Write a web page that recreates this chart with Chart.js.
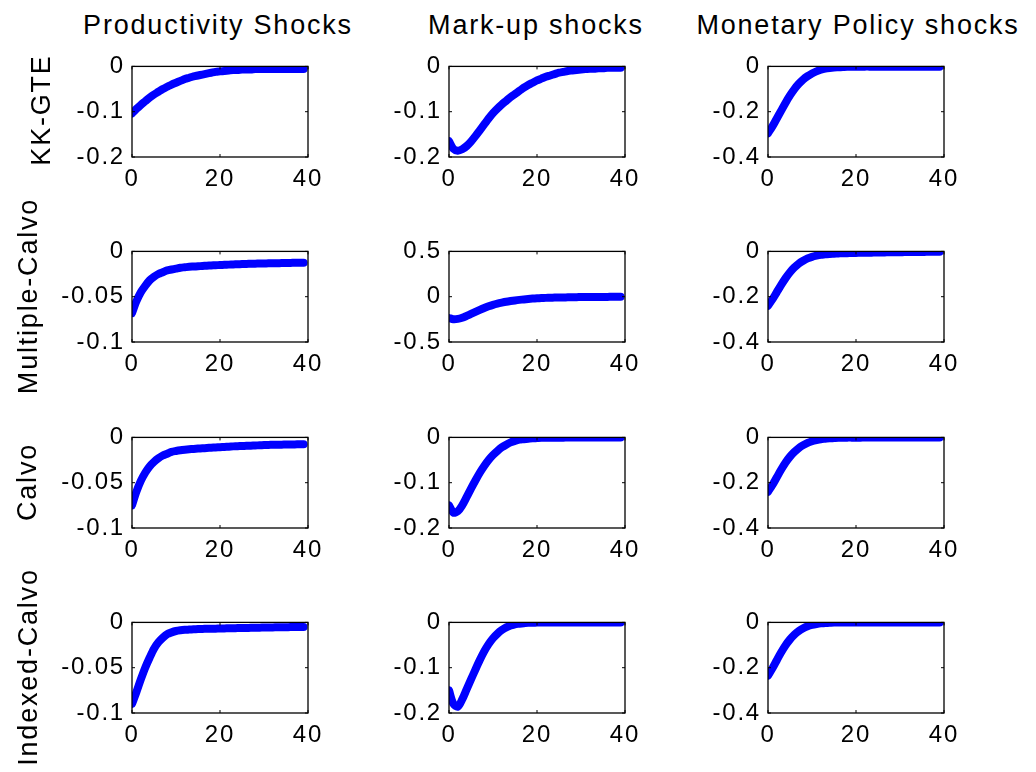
<!DOCTYPE html>
<html lang="en">

<head>
    <meta charset="UTF-8">
    <title>Impulse responses</title>
    <script src="https://cdn.jsdelivr.net/npm/chart.js"></script>
    <style>
        body {
            margin: 0;
            background: #fff;
            width: 1036px;
            height: 772px;
            position: relative;
            overflow: hidden;
            font-family: "Liberation Sans", Arial, sans-serif;
        }

        .painel {
            position: absolute;
        }

        .titulo {
            position: absolute;
            top: 12px;
            font-size: 27px;
            line-height: 27px;
            letter-spacing: 1.8px;
            white-space: nowrap;
            transform: translateX(-50%);
            color: #000;
        }

        .linha {
            position: absolute;
            font-size: 27px;
            line-height: 27px;
            letter-spacing: 1.8px;
            white-space: nowrap;
            width: 240px;
            text-align: center;
            transform: translate(-50%, -50%) rotate(-90deg);
            color: #000;
        }
    </style>
</head>

<body>
</body>
<script>

    // categorias
    const colunas = ['Productivity Shocks', 'Mark-up shocks', 'Monetary Policy shocks'];
    const linhas = ['KK-GTE', 'Multiple-Calvo', 'Calvo', 'Indexed-Calvo'];
    const periodos = [0, 1, 2, 3, 4, 5, 6, 7, 8, 9, 10, 11, 12, 13, 14, 15, 16, 17, 18, 19,
        20, 21, 22, 23, 24, 25, 26, 27, 28, 29, 30, 31, 32, 33, 34, 35, 36, 37, 38, 39];

    // KK-GTE
    const kkProd = [-0.104, -0.094, -0.085, -0.077, -0.069, -0.062, -0.056, -0.050, -0.045, -0.040,
        -0.036, -0.032, -0.028, -0.025, -0.022, -0.020, -0.018, -0.016, -0.014, -0.012,
        -0.011, -0.010, -0.009, -0.008, -0.008, -0.007, -0.007, -0.007, -0.006, -0.006,
        -0.006, -0.006, -0.006, -0.006, -0.006, -0.006, -0.006, -0.006, -0.006, -0.006];
    const kkMarkup = [-0.165, -0.182, -0.186, -0.183, -0.176, -0.166, -0.154, -0.141, -0.128, -0.115,
        -0.103, -0.093, -0.084, -0.076, -0.068, -0.061, -0.054, -0.047, -0.041, -0.036,
        -0.031, -0.027, -0.023, -0.020, -0.017, -0.014, -0.012, -0.010, -0.009, -0.008,
        -0.007, -0.006, -0.005, -0.005, -0.004, -0.004, -0.003, -0.003, -0.003, -0.003];
    const kkMonet = [-0.295, -0.265, -0.230, -0.195, -0.160, -0.128, -0.100, -0.077, -0.058, -0.043,
        -0.031, -0.022, -0.015, -0.010, -0.007, -0.005, -0.004, -0.003, -0.002, -0.002,
        -0.002, -0.002, -0.001, -0.001, -0.001, -0.001, -0.001, -0.001, -0.001, -0.001,
        -0.001, -0.001, -0.001, -0.001, -0.001, -0.001, -0.001, -0.001, -0.001, -0.001];

    // Multiple-Calvo
    const mcProd = [-0.068, -0.055, -0.045, -0.038, -0.032, -0.028, -0.025, -0.023, -0.021, -0.020,
        -0.019, -0.018, -0.0175, -0.017, -0.0167, -0.0164, -0.0161, -0.0158, -0.0155, -0.0153,
        -0.015, -0.0148, -0.0146, -0.0144, -0.0142, -0.014, -0.0138, -0.0136, -0.0135, -0.0134,
        -0.0133, -0.0132, -0.0131, -0.013, -0.0129, -0.0128, -0.0127, -0.0126, -0.0125, -0.0124];
    const mcMarkup = [-0.235, -0.248, -0.245, -0.232, -0.212, -0.190, -0.168, -0.146, -0.125, -0.106,
        -0.090, -0.077, -0.066, -0.056, -0.048, -0.041, -0.035, -0.030, -0.025, -0.021,
        -0.018, -0.015, -0.013, -0.011, -0.010, -0.009, -0.008, -0.007, -0.006, -0.005,
        -0.004, -0.004, -0.003, -0.003, -0.002, -0.002, -0.002, -0.001, -0.001, -0.001];
    const mcMonet = [-0.240, -0.212, -0.180, -0.148, -0.118, -0.092, -0.071, -0.054, -0.041, -0.031,
        -0.024, -0.019, -0.015, -0.013, -0.011, -0.010, -0.009, -0.008, -0.008, -0.007,
        -0.007, -0.006, -0.006, -0.006, -0.005, -0.005, -0.005, -0.004, -0.004, -0.004,
        -0.004, -0.003, -0.003, -0.003, -0.003, -0.003, -0.002, -0.002, -0.002, -0.002];

    // Calvo
    const cProd = [-0.075, -0.060, -0.048, -0.039, -0.032, -0.027, -0.023, -0.020, -0.018, -0.016,
        -0.015, -0.0142, -0.0136, -0.0131, -0.0127, -0.0123, -0.012, -0.0117, -0.0114, -0.0111,
        -0.0108, -0.0105, -0.0102, -0.0099, -0.0097, -0.0095, -0.0093, -0.0091, -0.0089, -0.0087,
        -0.0085, -0.0083, -0.0082, -0.0081, -0.008, -0.0079, -0.0078, -0.0077, -0.0076, -0.0075];
    const cMarkup = [-0.150, -0.166, -0.163, -0.150, -0.132, -0.113, -0.095, -0.078, -0.063, -0.050,
        -0.039, -0.030, -0.022, -0.016, -0.011, -0.008, -0.005, -0.004, -0.003, -0.002,
        -0.0015, -0.001, -0.001, -0.001, -0.0008, -0.0006, -0.0005, -0.0004, -0.0003, -0.0002,
        -0.0002, -0.0001, -0.0001, -0.0001, 0, 0, 0, 0, 0, 0];
    const cMonet = [-0.240, -0.210, -0.176, -0.142, -0.111, -0.085, -0.064, -0.047, -0.034, -0.024,
        -0.017, -0.012, -0.008, -0.006, -0.004, -0.003, -0.002, -0.002, -0.001, -0.001,
        -0.001, -0.001, -0.0008, -0.0006, -0.0005, -0.0004, -0.0003, -0.0002, -0.0002, -0.0001,
        -0.0001, -0.0001, 0, 0, 0, 0, 0, 0, 0, 0];

    // Indexed-Calvo
    const icProd = [-0.090, -0.077, -0.063, -0.050, -0.039, -0.029, -0.022, -0.017, -0.013, -0.011,
        -0.0095, -0.0087, -0.0082, -0.0079, -0.0076, -0.0074, -0.0072, -0.0071, -0.007, -0.0069,
        -0.0067, -0.0066, -0.0065, -0.0064, -0.0063, -0.0062, -0.0061, -0.006, -0.0059, -0.0058,
        -0.0057, -0.0056, -0.0055, -0.0054, -0.0054, -0.0053, -0.0052, -0.0051, -0.005, -0.005];
    const icMarkup = [-0.150, -0.180, -0.186, -0.170, -0.148, -0.126, -0.104, -0.083, -0.064, -0.048,
        -0.035, -0.025, -0.017, -0.011, -0.007, -0.004, -0.003, -0.002, -0.001, -0.001,
        -0.0005, -0.0003, -0.0002, -0.0001, 0, 0, 0, 0, 0, 0,
        0, 0, 0, 0, 0, 0, 0, 0, 0, 0];
    const icMonet = [-0.235, -0.203, -0.167, -0.132, -0.101, -0.075, -0.054, -0.038, -0.026, -0.017,
        -0.011, -0.007, -0.004, -0.003, -0.002, -0.001, -0.0005, -0.0003, -0.0002, -0.0001,
        0, 0, 0, 0, 0, 0, 0, 0, 0, 0,
        0, 0, 0, 0, 0, 0, 0, 0, 0, 0];

    // ticks
    const xTicks = [0, 20, 40];
    const xLabels = ['0', '20', '40'];
    const ticks02 = [-0.2, -0.1, 0];
    const labels02 = ['-0.2', '-0.1', '0'];
    const ticks04 = [-0.4, -0.2, 0];
    const labels04 = ['-0.4', '-0.2', '0'];
    const ticks01 = [-0.1, -0.05, 0];
    const labels01 = ['-0.1', '-0.05', '0'];
    const ticks05 = [-0.5, 0, 0.5];
    const labels05 = ['-0.5', '0', '0.5'];

    const series = [
        [kkProd, kkMarkup, kkMonet],
        [mcProd, mcMarkup, mcMonet],
        [cProd, cMarkup, cMonet],
        [icProd, icMarkup, icMonet]
    ];
    const eixosY = [
        [[ticks02, labels02], [ticks02, labels02], [ticks04, labels04]],
        [[ticks01, labels01], [ticks05, labels05], [ticks04, labels04]],
        [[ticks01, labels01], [ticks02, labels02], [ticks04, labels04]],
        [[ticks01, labels01], [ticks02, labels02], [ticks04, labels04]]
    ];

    // layout da figura
    const boxLeft = [132, 449, 768];
    const boxTop = [57, 242, 428, 613];
    const boxW = 176;
    const boxH = 100;
    const padL = 90, padT = 12, padR = 30, padB = 45;
    const tituloX = [218, 536, 858];
    const linhaX = [41, 28, 27, 28];
    const linhaY = [110, 296, 482, 667];

    // moldura e ticks internos estilo matlab
    const moldura = {
        id: 'moldura',
        beforeDraw(chart) {
            chart.ctx.letterSpacing = '1.8px';
        },
        afterDraw(chart) {
            const a = chart.chartArea;
            const ctx = chart.ctx;
            const sx = chart.scales.x;
            const sy = chart.scales.y;
            ctx.save();
            ctx.strokeStyle = '#000';
            ctx.lineWidth = 1.3;
            ctx.strokeRect(a.left, a.top, a.right - a.left, a.bottom - a.top);
            ctx.lineWidth = 1;
            ctx.beginPath();
            sx.ticks.forEach(function (t) {
                var px = sx.getPixelForValue(t.value);
                ctx.moveTo(px, a.bottom);
                ctx.lineTo(px, a.bottom - 3);
                ctx.moveTo(px, a.top);
                ctx.lineTo(px, a.top + 3);
            });
            sy.ticks.forEach(function (t) {
                var py = sy.getPixelForValue(t.value);
                ctx.moveTo(a.left, py);
                ctx.lineTo(a.left + 3, py);
                ctx.moveTo(a.right, py);
                ctx.lineTo(a.right - 3, py);
            });
            ctx.stroke();
            ctx.restore();
        }
    };

    function criarPainel(r, c) {
        var canvas = document.createElement('canvas');
        canvas.className = 'painel';
        canvas.width = padL + boxW + padR;
        canvas.height = padT + boxH + padB;
        canvas.style.left = (boxLeft[c] - padL) + 'px';
        canvas.style.top = (boxTop[r] - padT) + 'px';
        document.body.appendChild(canvas);

        var yTicks = eixosY[r][c][0];
        var yLabels = eixosY[r][c][1];

        new Chart(canvas, {
            type: 'line',
            data: {
                labels: periodos,
                datasets: [{
                    data: series[r][c],
                    borderColor: '#0000ff',
                    borderWidth: 8,
                    borderCapStyle: 'round',
                    borderJoinStyle: 'round',
                    pointRadius: 0,
                    fill: false,
                    tension: 0.3,
                    clip: 0
                }]
            },
            options: {
                responsive: false,
                animation: false,
                devicePixelRatio: 1,
                layout: {
                    autoPadding: false,
                    padding: { left: 0, top: padT, right: padR, bottom: 0 }
                },
                plugins: {
                    legend: { display: false },
                    tooltip: { enabled: false }
                },
                scales: {
                    x: {
                        type: 'linear',
                        min: 0,
                        max: 40,
                        grid: { display: false, drawTicks: false },
                        border: { display: false },
                        afterBuildTicks: function (s) {
                            s.ticks = xTicks.map(function (v) { return { value: v }; });
                        },
                        afterFit: function (s) { s.height = padB; },
                        ticks: {
                            color: '#000',
                            padding: 8,
                            maxRotation: 0,
                            font: { family: '"Liberation Sans", Arial, sans-serif', size: 24 },
                            callback: function (v, i) { return xLabels[i]; }
                        }
                    },
                    y: {
                        min: yTicks[0],
                        max: yTicks[yTicks.length - 1],
                        grid: { display: false, drawTicks: false },
                        border: { display: false },
                        afterBuildTicks: function (s) {
                            s.ticks = yTicks.map(function (v) { return { value: v }; });
                        },
                        afterFit: function (s) { s.width = padL; },
                        ticks: {
                            color: '#000',
                            padding: 7,
                            font: { family: '"Liberation Sans", Arial, sans-serif', size: 24 },
                            callback: function (v, i) { return yLabels[i]; }
                        }
                    }
                }
            },
            plugins: [moldura]
        });
    }

    for (var r = 0; r < linhas.length; r++) {
        for (var c = 0; c < colunas.length; c++) {
            criarPainel(r, c);
        }
    }

    colunas.forEach(function (nome, c) {
        var d = document.createElement('div');
        d.className = 'titulo';
        d.style.left = tituloX[c] + 'px';
        d.textContent = nome;
        document.body.appendChild(d);
    });

    linhas.forEach(function (nome, r) {
        var d = document.createElement('div');
        d.className = 'linha';
        d.style.left = linhaX[r] + 'px';
        d.style.top = linhaY[r] + 'px';
        d.textContent = nome;
        document.body.appendChild(d);
    });
</script>

</html>
